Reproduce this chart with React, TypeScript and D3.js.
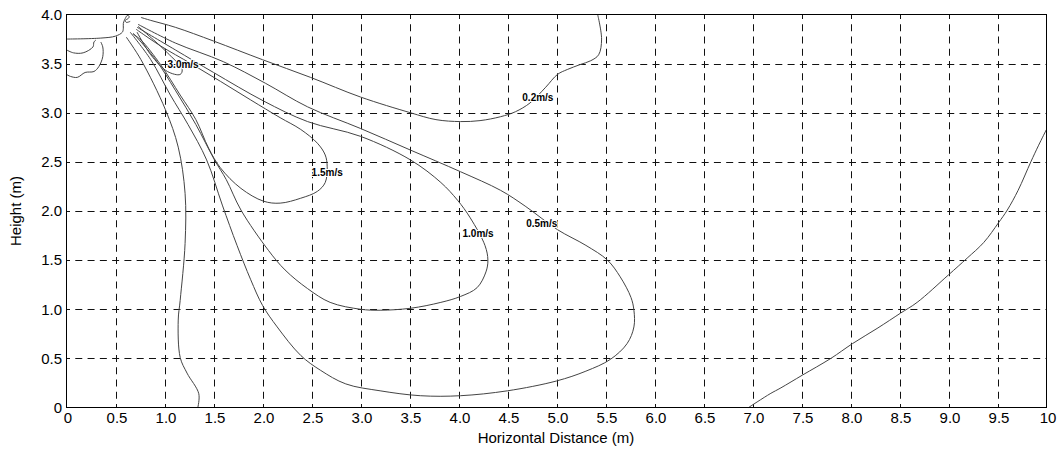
import React from "react";
import * as d3 from "d3";

type P = [number, number];

const xTickValues = [0, 0.5, 1, 1.5, 2, 2.5, 3, 3.5, 4, 4.5, 5, 5.5, 6, 6.5, 7, 7.5, 8, 8.5, 9, 9.5, 10];
const xTickLabels = ["0", "0.5", "1.0", "1.5", "2.0", "2.5", "3.0", "3.5", "4.0", "4.5", "5.0", "5.5", "6.0", "6.5", "7.0", "7.5", "8.0", "8.5", "9.0", "9.5", "10"];
const yTickValues = [0, 0.5, 1, 1.5, 2, 2.5, 3, 3.5, 4];
const yTickLabels = ["0", "0.5", "1.0", "1.5", "2.0", "2.5", "3.0", "3.5", "4.0"];

const xTitle = "Horizontal Distance (m)";
const yTitle = "Height (m)";

// 0.2 m/s contour, upper branch (from top edge back to nozzle)
const c02Upper: P[] = [
  [5.42, 4.0], [5.46, 3.75], [5.43, 3.59], [5.35, 3.53], [5.24, 3.49], [5.11, 3.44], [5.01, 3.39],
  [4.89, 3.26], [4.73, 3.1], [4.58, 3.01], [4.43, 2.96], [4.22, 2.92], [4.02, 2.91], [3.77, 2.93],
  [3.51, 3.0], [3.0, 3.16], [2.49, 3.36], [2.0, 3.54], [1.5, 3.73], [1.11, 3.87], [0.86, 3.94], [0.76, 3.97],
];
// 0.2 m/s contour, lower branch (nozzle down to floor)
const c02Lower: P[] = [
  [0.61, 3.77], [0.76, 3.54], [1.01, 3.03], [1.14, 2.65], [1.21, 2.18], [1.21, 1.67], [1.16, 1.09],
  [1.14, 0.89], [1.16, 0.51], [1.23, 0.35], [1.35, 0.14], [1.34, 0.0],
];
// 0.2 m/s contour, far right
const c02Right: P[] = [
  [6.96, 0.0], [7.18, 0.14], [7.29, 0.2], [7.51, 0.33], [7.8, 0.5], [8.02, 0.65], [8.28, 0.81], [8.51, 0.96],
  [8.68, 1.07], [9.0, 1.35], [9.19, 1.52], [9.36, 1.68], [9.51, 1.88], [9.6, 2.01], [9.71, 2.21],
  [9.84, 2.5], [9.92, 2.67], [10.0, 2.83],
];
// contours near the ceiling on the left
const cTopLeftA: P[] = [
  [0.0, 3.75], [0.35, 3.76], [0.5, 3.78], [0.57, 3.82], [0.58, 3.86], [0.58, 3.91], [0.6, 3.96],
  [0.62, 3.99], [0.64, 3.98], [0.63, 3.96], [0.6, 3.94], [0.61, 3.92], [0.65, 3.93],
];
const cTopLeftB: P[] = [
  [0.0, 3.64], [0.07, 3.61], [0.17, 3.61], [0.27, 3.67], [0.28, 3.72], [0.3, 3.74],
];
const cTopLeftC: P[] = [
  [0.35, 3.72], [0.37, 3.67], [0.37, 3.57], [0.33, 3.47], [0.28, 3.42], [0.19, 3.41], [0.11, 3.36],
  [0.04, 3.37], [0.0, 3.39],
];
// 0.5 m/s lobe
const c05: P[] = [
  [0.73, 3.9], [1.11, 3.71], [1.6, 3.52], [2.03, 3.3], [2.46, 3.06], [3.0, 2.84], [3.51, 2.62], [4.02, 2.4],
  [4.43, 2.21], [4.68, 2.05], [5.01, 1.81], [5.3, 1.65], [5.52, 1.5], [5.65, 1.33], [5.76, 1.12],
  [5.79, 0.99], [5.79, 0.82], [5.72, 0.65], [5.55, 0.49], [5.3, 0.37], [5.0, 0.27], [4.5, 0.17],
  [4.02, 0.12], [3.61, 0.12], [3.2, 0.17], [2.85, 0.24], [2.59, 0.38], [2.39, 0.53], [2.15, 0.82],
  [2.0, 1.04], [1.88, 1.3], [1.74, 1.65], [1.59, 2.06], [1.43, 2.52], [1.24, 2.88], [1.06, 3.18],
  [0.86, 3.54], [0.65, 3.82],
];
// 1.0 m/s lobe
const c10: P[] = [
  [0.72, 3.87], [1.11, 3.64], [1.5, 3.41], [2.01, 3.12], [2.46, 2.91], [3.0, 2.76], [3.51, 2.52],
  [3.82, 2.29], [3.99, 2.11], [4.12, 1.93], [4.27, 1.65], [4.3, 1.5], [4.28, 1.38], [4.19, 1.22],
  [4.02, 1.13], [3.82, 1.07], [3.51, 1.01], [3.2, 0.99], [3.0, 1.0], [2.69, 1.07], [2.46, 1.21],
  [2.23, 1.4], [2.06, 1.6], [1.78, 2.01], [1.63, 2.32], [1.51, 2.52], [1.32, 2.88], [1.11, 3.23],
  [0.91, 3.54], [0.68, 3.81],
];
// 1.5 m/s lobe
const c15: P[] = [
  [0.71, 3.85], [0.96, 3.68], [1.27, 3.5], [1.57, 3.32], [1.88, 3.13], [2.18, 2.95], [2.39, 2.83],
  [2.56, 2.69], [2.64, 2.57], [2.66, 2.45], [2.64, 2.29], [2.56, 2.2], [2.39, 2.13], [2.18, 2.08],
  [2.01, 2.1], [1.78, 2.23], [1.57, 2.44], [1.45, 2.64], [1.32, 2.93], [1.16, 3.18], [0.96, 3.49],
  [0.76, 3.74], [0.68, 3.8],
];
// 3.0 m/s lobe
const c30: P[] = [
  [0.73, 3.88], [0.89, 3.74], [1.03, 3.61], [1.18, 3.44], [1.16, 3.39], [1.03, 3.42], [0.86, 3.59], [0.72, 3.82],
];

const contourLines: P[][] = [c02Upper, c02Lower, c02Right, cTopLeftA, cTopLeftB, cTopLeftC, c05, c10, c15, c30];

const labelTexts = ["3.0m/s", "0.2m/s", "1.5m/s", "1.0m/s", "0.5m/s"];
const labelX = [1.19, 4.81, 2.66, 4.2, 4.85];
const labelY = [3.49, 3.16, 2.39, 1.77, 1.87];

export default function App() {
  const W = 1061;
  const H = 456;
  const x = d3.scaleLinear().domain([0, 10]).range([66.5, 1046.5]);
  const y = d3.scaleLinear().domain([0, 4]).range([407.5, 14.5]);
  const line = d3
    .line<P>()
    .x((d) => x(d[0]))
    .y((d) => y(d[1]))
    .curve(d3.curveCatmullRom.alpha(0.5));

  const font = "Arial, 'Liberation Sans', sans-serif";
  const xPeriod = (x(0.5) - x(0)) / 4;
  const yPeriod = (y(0) - y(0.5)) / 4;

  return (
    <svg
      width={W}
      height={H}
      style={{ position: "absolute", left: 0, top: 0, background: "#fff" }}
      fontFamily={font}
    >
      <rect x={0} y={0} width={W} height={H} fill="#fff" />
      {/* grid */}
      {xTickValues.slice(1, -1).map((v, i) => (
        <line
          key={"gx" + i}
          x1={Math.round(x(v)) + 0.5}
          x2={Math.round(x(v)) + 0.5}
          y1={y(0)}
          y2={y(4)}
          stroke="#111"
          strokeWidth={1}
          strokeDasharray={`7 ${xPeriod - 7}`}
          strokeDashoffset={3.5}
        />
      ))}
      {yTickValues.slice(1, -1).map((v, i) => (
        <line
          key={"gy" + i}
          x1={x(0)}
          x2={x(10)}
          y1={Math.round(y(v)) + 0.5}
          y2={Math.round(y(v)) + 0.5}
          stroke="#111"
          strokeWidth={1}
          strokeDasharray={`7 ${yPeriod - 7}`}
          strokeDashoffset={3.5}
        />
      ))}
      {/* contour lines */}
      {contourLines.map((c, i) => (
        <path key={"c" + i} d={line(c) || ""} fill="none" stroke="#444" strokeWidth={1} />
      ))}
      {/* contour labels */}
      {labelTexts.map((t, i) => (
        <text
          key={"l" + i}
          x={x(labelX[i])}
          y={y(labelY[i])}
          textAnchor="middle"
          dominantBaseline="central"
          fontSize={10}
          fontWeight="bold"
          fill="#000"
          stroke="#fff"
          strokeWidth={2}
          paintOrder="stroke"
        >
          {t}
        </text>
      ))}
      {/* frame */}
      <rect x={x(0)} y={y(4)} width={x(10) - x(0)} height={y(0) - y(4)} fill="none" stroke="#000" strokeWidth={1} />
      {/* tick labels */}
      {xTickValues.map((v, i) => (
        <text key={"xt" + i} x={x(v) + 1.5} y={423} textAnchor="middle" fontSize={15} fill="#000">
          {xTickLabels[i]}
        </text>
      ))}
      {yTickValues.map((v, i) => (
        <text key={"yt" + i} x={62} y={y(v) + 5.3} textAnchor="end" fontSize={15} fill="#000">
          {yTickLabels[i]}
        </text>
      ))}
      {/* axis titles */}
      <text x={556} y={443} textAnchor="middle" fontSize={15} fill="#000">
        {xTitle}
      </text>
      <text
        transform={`translate(21, ${(y(0) + y(4)) / 2}) rotate(-90)`}
        textAnchor="middle"
        fontSize={15}
        fill="#000"
      >
        {yTitle}
      </text>
    </svg>
  );
}
